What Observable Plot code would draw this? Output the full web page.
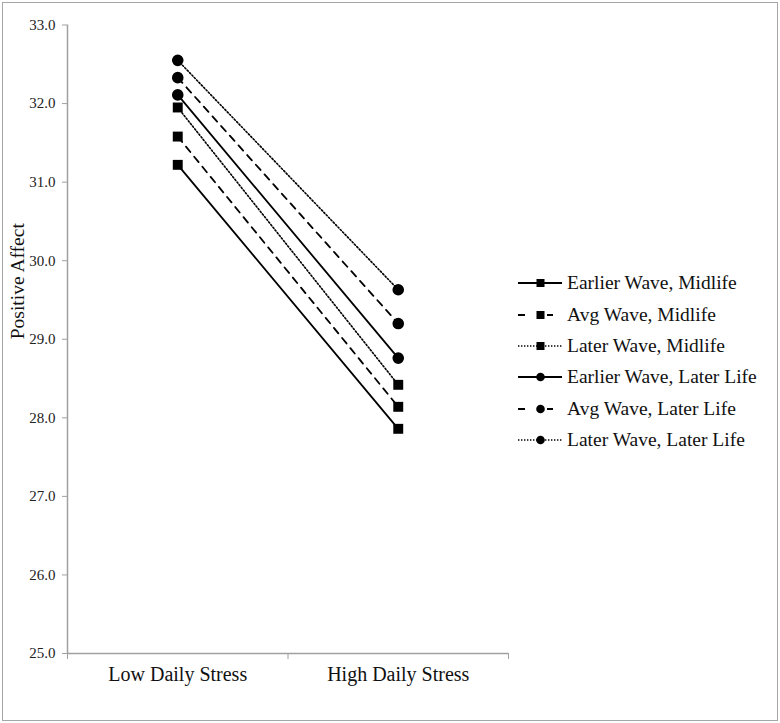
<!DOCTYPE html>
<html>
<head>
<meta charset="utf-8">
<script src="https://cdn.jsdelivr.net/npm/d3@7"></script>
<script src="https://cdn.jsdelivr.net/npm/@observablehq/plot@0.6"></script>
<style>
  html, body { margin: 0; padding: 0; background: #fff; }
  #wrap { position: relative; width: 780px; height: 723px; font-family: 'Liberation Serif', serif; }
  #border { position: absolute; left: 2px; top: 2px; width: 774px; height: 717px; border: 1.5px solid #a6a6a6; box-sizing: content-box; pointer-events: none; }
  #legend { position: absolute; left: 0; top: 0; }
  .row { position: absolute; left: 516px; height: 24px; display: flex; align-items: center; font-family: 'Liberation Serif', serif; font-size: 19.5px; color: #111; white-space: nowrap; }
  .row svg { margin-right: 3px; }
  svg text { font-family: 'Liberation Serif', serif; }
</style>
</head>
<body>
<div id="wrap"><div id="legend"></div><div id="border"></div></div>
<script>
// ---- data ----
const stressLevels = ["Low Daily Stress", "High Daily Stress"];
const seriesNames = [
  "Earlier Wave, Midlife",
  "Avg Wave, Midlife",
  "Later Wave, Midlife",
  "Earlier Wave, Later Life",
  "Avg Wave, Later Life",
  "Later Wave, Later Life"
];
const lowStress  = [31.22, 31.58, 31.95, 32.11, 32.33, 32.55];
const highStress = [27.86, 28.14, 28.42, 28.76, 29.20, 29.63];
const yTicks = [25, 26, 27, 28, 29, 30, 31, 32, 33];

// ---- styles (not data) ----
const kindOf = name => name.startsWith("Earlier") ? "solid" : name.startsWith("Avg") ? "dash" : "dot";
const dashFor = name => ({solid: null, dash: "7,6", dot: "1.4,2"})[kindOf(name)];
const widthFor = name => kindOf(name) === "dot" ? 1.6 : 1.8;
const symbolFor = name => name.includes("Midlife") ? "square" : "circle";

const rows = [];
seriesNames.forEach((s, i) => {
  rows.push({series: s, x: 0.5, stress: stressLevels[0], value: lowStress[i]});
  rows.push({series: s, x: 1.5, stress: stressLevels[1], value: highStress[i]});
});

const font = "'Liberation Serif', serif";
const grey = "#a0a0a0";

const marks = [
  Plot.ruleY([25], {stroke: grey, strokeWidth: 1.5}),
  Plot.ruleX([0], {stroke: grey, strokeWidth: 1.5}),
  Plot.axisY({ticks: yTicks, tickFormat: d3.format(".1f"), tickSize: 5, tickPadding: 7,
    stroke: grey, fill: "#222", fontSize: 15, fontFamily: font, label: null}),
  Plot.axisX({ticks: [0, 1, 2], tickFormat: () => "", tickSize: 6, stroke: grey, label: null}),
  Plot.axisX({ticks: [0.5, 1.5], tickSize: 0, tickPadding: 13,
    tickFormat: d => stressLevels[Math.floor(d)], fill: "#111", fontSize: 20, fontFamily: font, label: null}),
  Plot.text(["Positive Affect"], {frameAnchor: "left", dx: -50, rotate: -90,
    fontSize: 19.5, fontFamily: font, fill: "#111"})
];
seriesNames.forEach(s => {
  const d = rows.filter(r => r.series === s);
  marks.push(Plot.line(d, {x: "x", y: "value", stroke: "#000", strokeWidth: widthFor(s),
    strokeDasharray: dashFor(s)}));
});
seriesNames.forEach(s => {
  const d = rows.filter(r => r.series === s);
  marks.push(Plot.dot(d, {x: "x", y: "value", symbol: () => symbolFor(s), fill: "#000",
    r: symbolFor(s) === "square" ? 5.6 : 5.8}));
});

const chart = Plot.plot({
  width: 780,
  height: 723,
  marginLeft: 67,
  marginRight: 272,
  marginTop: 24.5,
  marginBottom: 70,
  style: {fontFamily: font, background: "transparent"},
  x: {domain: [0, 2], axis: null},
  y: {domain: [25, 33], axis: null},
  symbol: {type: "identity"},
  marks
});
document.getElementById("wrap").prepend(chart);

// ---- legend ----
const legend = document.getElementById("legend");
const centers = [283, 314.5, 345.5, 377, 408.5, 440];
seriesNames.forEach((s, i) => {
  const row = document.createElement("div");
  row.className = "row";
  row.style.top = (centers[i] - 12) + "px";
  const k = kindOf(s);
  let line;
  if (k === "solid") line = `<line x1="2" x2="46" y1="7" y2="7" stroke="#000" stroke-width="2"/>`;
  else if (k === "dash") line = `<line x1="2" x2="9" y1="7" y2="7" stroke="#000" stroke-width="2"/><line x1="31" x2="37" y1="7" y2="7" stroke="#000" stroke-width="2"/>`;
  else line = `<line x1="2" x2="46" y1="7" y2="7" stroke="#000" stroke-width="1.6" stroke-dasharray="1.4,1.6"/>`;
  const cx = k === "dash" ? 24.5 : 24.5;
  const marker = symbolFor(s) === "square"
    ? `<rect x="${cx - 4}" y="3" width="8" height="8" fill="#000"/>`
    : `<circle cx="${cx}" cy="7" r="4.3" fill="#000"/>`;
  row.innerHTML = `<svg width="48" height="14" viewBox="0 0 48 14">${line}${marker}</svg><span>${s}</span>`;
  legend.appendChild(row);
});
</script>
</body>
</html>
